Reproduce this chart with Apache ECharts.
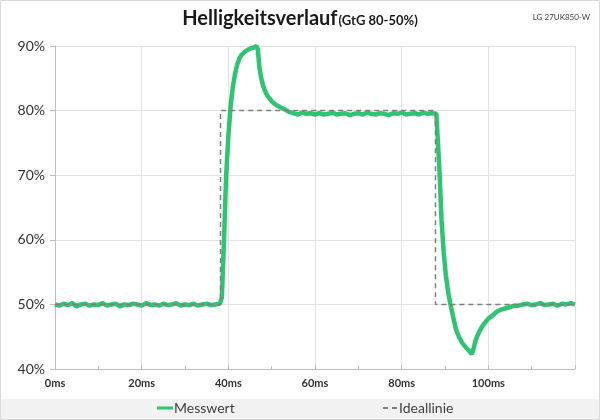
<!DOCTYPE html>
<html><head><meta charset="utf-8">
<script src="https://cdn.jsdelivr.net/npm/echarts@6/dist/echarts.min.js"></script>
<style>html,body{margin:0;padding:0;background:#fff}#c{width:600px;height:420px}</style>
</head><body><div id="c"></div>
<script>
// Messwert (measured) – time in ms, brightness in %
const messTime = [
  0,1,2,3,4,5,6,7,8,9,10,11,12,13,14,15,16,17,18,19,20,21,22,23,24,25,26,27,28,29,30,31,32,33,34,35,36,37,
  38,38.5,39,39.5,40,40.5,41,41.5,42,42.5,43,43.5,44,44.5,45,45.5,46,46.5,46.8,47.2,47.6,48,48.5,49,49.5,50,
  51,52,53,54,55,56,57,58,59,60,
  61,62,63,64,65,66,67,68,69,70,71,72,73,74,75,76,77,78,79,80,81,82,83,84,85,86,87,
  88,88.3,88.7,89.2,89.7,90.2,90.7,91.2,91.8,92.5,93.2,94,95,95.7,96.2,96.6,97,97.5,98,98.7,99.5,100,
  101,102,103,104,105,106,107,108,
  109,110,111,112,113,114,115,116,117,118,119,120
];
const messValue = [
  50.0,49.8,50.1,49.9,50.2,49.7,50.0,50.1,49.8,50.0,49.9,50.2,49.8,50.0,50.1,49.7,50.0,49.9,50.1,50.0,49.8,50.2,49.9,50.0,49.8,50.1,49.9,50.0,50.2,49.8,50.0,49.9,50.1,49.8,50.0,50.1,49.9,50.0,
  50.1,51,60,70,76,80.5,83.5,85.5,87,88,88.6,88.9,89.2,89.4,89.6,89.7,89.8,90.0,89.5,86.5,85,83.9,83,82.3,81.9,81.4,
  80.9,80.5,80.2,79.8,79.6,79.4,79.7,79.5,79.6,79.4,
  79.6,79.4,79.5,79.7,79.4,79.5,79.6,79.3,79.5,79.6,79.4,79.7,79.5,79.4,79.6,79.5,79.3,79.6,79.5,79.7,79.4,79.5,79.6,79.4,79.7,79.5,79.6,
  79.5,79.2,71,63,58,54.5,52,50.2,48.3,46.2,45,44,43.2,42.7,42.3,43.2,44.3,45.2,45.9,46.7,47.4,47.8,
  48.3,48.9,49.2,49.4,49.6,49.8,49.8,50.0,
  50.1,49.9,50.0,50.2,49.9,50.0,50.1,49.8,50.1,50.0,50.2,50.0
];
// Ideallinie (ideal step)
const idealTime  = [0, 38.2, 38.2, 87.8, 87.8, 120];
const idealValue = [50, 50, 80, 80, 50, 50];

const yTicks = [40, 50, 60, 70, 80, 90];
const xTicks = [0, 20, 40, 60, 80, 100, 120];

const pairs = (t, v) => t.map((x, i) => [x, v[i]]);
const FONT = 'Lato';

const chart = echarts.init(document.getElementById('c'), null, {renderer: 'canvas'});
chart.setOption({
  animation: false,
  backgroundColor: '#ffffff',
  textStyle: {fontFamily: FONT},
  title: [{
    text: '{a|Helligkeitsverlauf}{b|(GtG 80-50%)}',
    left: 'center', top: 4,
    textStyle: {rich: {
      a: {fontFamily: FONT, fontSize: 20, fontWeight: 'bold', color: '#1a1a1a'},
      b: {fontFamily: FONT, fontSize: 13, fontWeight: 'bold', color: '#1a1a1a', padding: [4, 0, 0, 1]}
    }}
  }, {
    text: 'LG 27UK850-W', right: 5, top: 8,
    textStyle: {fontFamily: FONT, fontSize: 8, fontWeight: 'normal', color: '#404040'}
  }],
  graphic: [
    {type: 'rect', shape: {x: 0, y: 399, width: 600, height: 21}, style: {fill: '#f2f2f2'}, z: -1},
    {type: 'rect', shape: {x: 0.5, y: 0.5, width: 599, height: 419}, style: {fill: null, stroke: '#d9d9d9', lineWidth: 1}, z: 10}
  ],
  legend: [{
    data: [{name: 'Messwert', icon: 'rect'}],
    left: 152, top: 396, itemWidth: 16, itemHeight: 3,
    textStyle: {fontFamily: FONT, fontSize: 14, color: '#404040', padding: [0, 0, 0, -4]}
  }, {
    data: [{name: 'Ideallinie', icon: 'path://M0,0h5v2h-5z M9,0h5v2h-5z'}],
    left: 378, top: 396, itemWidth: 14, itemHeight: 2,
    itemStyle: {color: '#7f7f7f'},
    textStyle: {fontFamily: FONT, fontSize: 14, color: '#404040', padding: [0, 0, 0, -3]}
  }],
  grid: {left: 55, right: 25, top: 46, bottom: 51, containLabel: false},
  xAxis: {
    type: 'value', min: xTicks[0], max: xTicks[xTicks.length - 1], interval: 20,
    axisLine: {show: true, lineStyle: {color: '#bfbfbf'}},
    axisTick: {show: true, length: 4, inside: true, lineStyle: {color: '#bfbfbf'}},
    minorTick: {show: true, splitNumber: 2, length: 3, lineStyle: {color: '#bfbfbf'}},
    splitLine: {show: true, lineStyle: {color: '#e3e3e3'}},
    axisLabel: {
      fontFamily: FONT, fontSize: 11, fontWeight: 'bold', color: '#333', margin: 9,
      formatter: v => (v === 120 ? '' : v + 'ms')
    }
  },
  yAxis: {
    type: 'value', min: yTicks[0], max: yTicks[yTicks.length - 1], interval: 10,
    axisLine: {show: true, lineStyle: {color: '#bfbfbf'}},
    axisTick: {show: true, length: 5, lineStyle: {color: '#bfbfbf'}},
    splitLine: {show: true, lineStyle: {color: '#e3e3e3'}},
    axisLabel: {fontFamily: FONT, fontSize: 14, color: '#333', margin: 10, formatter: v => v + '%'}
  },
  series: [{
    name: 'Messwert', type: 'line', data: pairs(messTime, messValue),
    showSymbol: false, symbol: 'none', z: 3,
    itemStyle: {color: '#2ec471'},
    lineStyle: {color: '#2ec471', width: 4.5}
  }, {
    name: 'Ideallinie', type: 'line', data: pairs(idealTime, idealValue),
    showSymbol: false, symbol: 'none', z: 4,
    itemStyle: {color: '#7f7f7f'},
    lineStyle: {color: '#7f7f7f', width: 1.5, type: [5, 4]}
  }]
});
</script></body></html>
